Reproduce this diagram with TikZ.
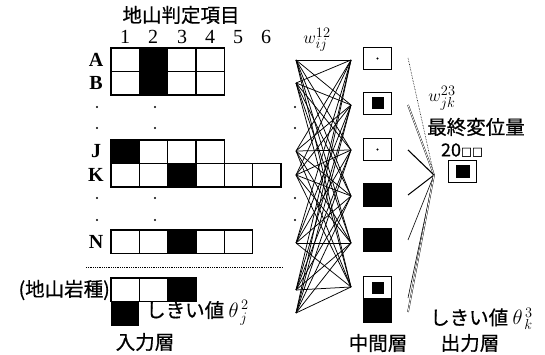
\documentclass[tikz,border=0pt]{standalone}
\usepackage{fontspec}
\setmainfont{Liberation Serif}
\newfontfamily\jp[FakeBold=0.6]{Noto Sans CJK JP}
\newcommand\cellrow[3]{%
  \foreach \b in {#3} {\fill ({111+(\b-1)*28.3},#1) rectangle ++(28.3,23.5);}
  \foreach \c in {1,...,#2} {\draw[gridline] ({111+(\c-1)*28.3},#1) rectangle ++(28.3,23.5);}
}
\begin{document}
\begin{tikzpicture}[x=1pt,y=-1pt,
  gridline/.style={line width=1.4pt},
  net/.style={line width=0.75pt},
  hbox/.style={draw,line width=1.5pt,minimum width=28pt,minimum height=22pt,inner sep=0pt},
  hblack/.style={fill=black,minimum width=29.5pt,minimum height=23.5pt,inner sep=0pt},
  innersq/.style={fill=black,minimum width=12pt,minimum height=12pt,inner sep=0pt},
  jlab/.style={font=\jp\fontsize{19.5}{20}\selectfont,inner sep=0pt},
  llab/.style={font=\fontsize{20}{20}\selectfont,inner sep=0pt},
  rlab/.style={font=\bfseries\fontsize{20}{20}\selectfont,inner sep=0pt},
  outl/.style={line width=0.6pt}]
\useasboundingbox (0,0) rectangle (545,355);
% title and column numbers
\node[jlab] (title) at (181,15) {地山判定項目};
\foreach \n/\x in {1/125,2/153,3/182,4/210,5/238,6/266}
  \node[llab] (num\n) at (\x,37) {\n};
% row labels
\foreach \r/\y in {A/60,B/83,J/151,K/175,N/242}
  \node[rlab] (row\r) at (96,\y) {\r};
% grid rows
\cellrow{48}{4}{2}
\cellrow{71.5}{4}{2}
\cellrow{140}{4}{1}
\cellrow{163.5}{6}{3}
\cellrow{230}{5}{3}
% rock type rows
\fill (111,302) rectangle ++(28.3,23.5);
\cellrow{278}{3}{3}
% dots
\foreach \x in {97,155}
  \foreach \y in {107,128,198,220}
    \fill (\x,\y) circle (1.1pt);
\foreach \y in {107,128,198,220}
  \fill (295,\y) circle (1.1pt);
% dotted separator
\draw[densely dotted,line width=0.8pt] (86,267) -- (283,267);
% lower labels
\node[jlab,anchor=east] (rock) at (110,290) {(地山岩種)};
\node[jlab,anchor=west] (th2) at (146,313) {しきい値\ \normalfont\fontsize{20}{20}\selectfont$\theta^{\,2}_{\,j}$};
\node[jlab] (inlayer) at (145,342) {入力層};
% network
\foreach \i/\y in {1/60,2/83,3/151,4/175,5/243,6/290,7/313}
  \coordinate (L\i) at (296,\y);
\foreach \j/\y in {1/60,2/105,3/150,4/196,5/243,6/287}
  \coordinate (R\j) at (351,\y);
\foreach \i in {1,...,7}
  \foreach \j in {1,...,6}
    \draw[net] (L\i) -- (R\j);
\node[inner sep=0pt] (w12) at (317,40) {\fontsize{19}{19}\selectfont$w^{12}_{ij}$};
% hidden layer
\node[hbox] (h1) at (377.5,58.5) {};
\node[hbox] (h2) at (377.5,103.5) {};
\node[hbox] (h3) at (377.5,149.5) {};
\node[hblack] (h4) at (377.5,195) {};
\node[hblack] (h5) at (377.5,240) {};
\node[hbox] (h6) at (377.5,287.5) {};
\node[hblack,minimum height=24pt] (h7) at (377.5,310.5) {};
\fill (h1) circle (1.2pt);
\fill (h3) circle (1.2pt);
\node[innersq] (h2i) at (h2) {};
\node[innersq] (h6i) at (h6) {};
% output connections
\coordinate (conv) at (434,175);
\foreach \k/\y in {1/58,2/105,3/150,4/195,5/240,6/298,7/312}
  \coordinate (o\k) at (408,\y);
\draw[outl,densely dotted] (o1) -- (conv);
\draw[outl,double,double distance=0.8pt,line width=0.4pt] (o2) -- (conv);
\draw[line width=1.1pt] (o3) -- (conv);
\draw[line width=1pt] (o4) -- (conv);
\draw[outl] (o5) -- (conv);
\draw[outl] (o6) -- (conv);
\draw[outl,double,double distance=0.8pt,line width=0.4pt] (o7) -- (conv);
% output node
\node[hbox] (out) at (462.5,171.5) {};
\node[innersq,minimum width=14pt,minimum height=13pt] (outi) at (out) {};
\node[inner sep=0pt] (w23) at (442,98) {\fontsize{19}{19}\selectfont$w^{23}_{jk}$};
\node[jlab] (final) at (476,127) {最終変位量};
\node[inner sep=0pt] (mm) at (462,150) {\jp\fontsize{18}{18}\selectfont 20\fontsize{11}{11}\selectfont□□};
\node[jlab,anchor=west] (th3) at (430,319) {しきい値\ \normalfont\fontsize{20}{20}\selectfont$\theta^{\,3}_{\,k}$};
\node[jlab] (midlayer) at (378,343) {中間層};
\node[jlab] (outlayer) at (470,343) {出力層};
\end{tikzpicture}
\end{document}
